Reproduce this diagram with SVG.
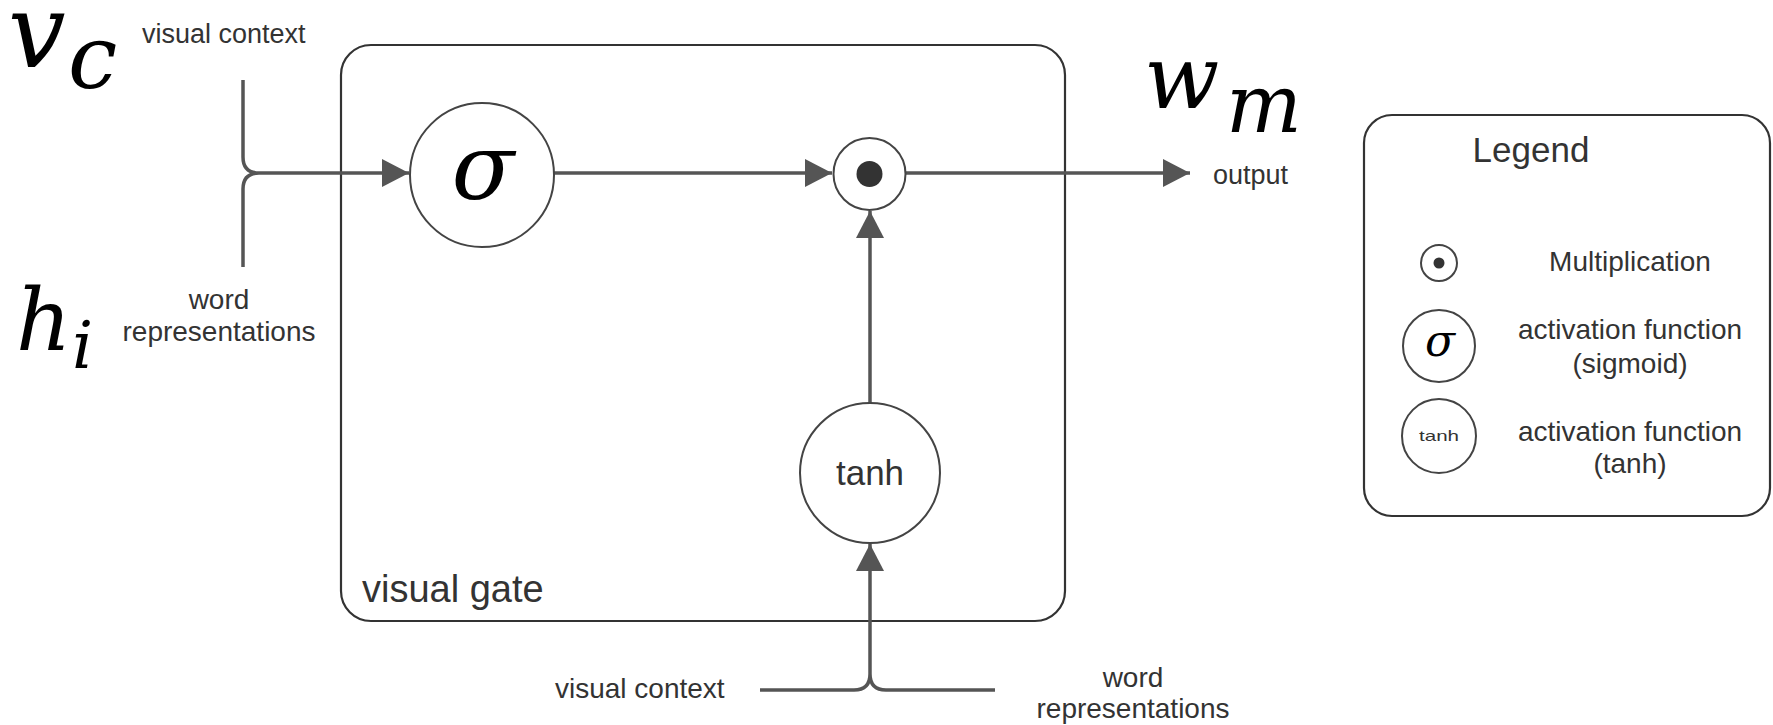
<svg xmlns="http://www.w3.org/2000/svg" width="1773" height="725" viewBox="0 0 1773 725">
<style>
.lbl{font-family:"Liberation Sans",Arial,sans-serif;fill:#333;}
.math{font-family:"DejaVu Serif",serif;font-style:italic;fill:#000;}
.node{fill:#fff;stroke:#444;stroke-width:2;}
.conn{fill:none;stroke:#555;stroke-width:3.5;}
.box{fill:none;stroke:#333;stroke-width:2.2;}
</style>
<defs>
<marker id="arr" markerUnits="userSpaceOnUse" markerWidth="30" markerHeight="30" refX="27" refY="14" orient="auto">
<path d="M0,0 L27,14 L0,28 z" fill="#555"/>
</marker>
</defs>
<rect width="1773" height="725" fill="#fff"/>

<g id="gate-box">
<rect class="box" x="341" y="45" width="724" height="576" rx="30" ry="30"/>
<text class="lbl" x="362" y="602" font-size="38">visual gate</text>
</g>

<g id="connectors">
<path class="conn" d="M243,80 V157 Q243,173 259,173 Q243,173 243,189 V267"/>
<path class="conn" d="M259,173 H409" marker-end="url(#arr)"/>
<path class="conn" d="M554,173 H832" marker-end="url(#arr)"/>
<path class="conn" d="M906,173 H1190" marker-end="url(#arr)"/>
<path class="conn" d="M870,404 V211" marker-end="url(#arr)"/>
<path class="conn" d="M760,690 H854 Q870,690 870,674 Q870,690 886,690 H995"/>
<path class="conn" d="M870,674 V544" marker-end="url(#arr)"/>
</g>

<g id="sigma-node">
<circle class="node" cx="482" cy="175" r="72"/>
<text class="math" x="483" y="199" font-size="92" text-anchor="middle">σ</text>
</g>

<g id="mult-node">
<circle class="node" cx="869.5" cy="174" r="36"/>
<circle cx="869.5" cy="174" r="13" fill="#333"/>
</g>

<g id="tanh-node">
<circle class="node" cx="870" cy="473" r="70"/>
<text class="lbl" x="870" y="485" font-size="35" text-anchor="middle">tanh</text>
</g>

<g id="input-top-left">
<text class="math" x="8" y="67" font-size="102">v</text>
<text class="math" x="68" y="88" font-size="88">c</text>
<text class="lbl" x="142" y="43" font-size="27">visual context</text>
</g>

<g id="input-bottom-left">
<text class="math" x="16" y="350" font-size="86">h</text>
<text class="math" x="72" y="368" font-size="66">i</text>
<text class="lbl" x="219" y="309" font-size="28" text-anchor="middle">word</text>
<text class="lbl" x="219" y="341" font-size="28" text-anchor="middle">representations</text>
</g>

<g id="output">
<text class="math" x="1144" y="108" font-size="88">w</text>
<text class="math" x="1226" y="132" font-size="80">m</text>
<text class="lbl" x="1213" y="184" font-size="27">output</text>
</g>

<g id="input-bottom">
<text class="lbl" x="555" y="698" font-size="28">visual context</text>
<text class="lbl" x="1133" y="687" font-size="28" text-anchor="middle">word</text>
<text class="lbl" x="1133" y="718" font-size="28" text-anchor="middle">representations</text>
</g>

<g id="legend">
<rect class="box" x="1364" y="115" width="406" height="401" rx="28" ry="28"/>
<text class="lbl" x="1531" y="162" font-size="35" text-anchor="middle">Legend</text>
<circle class="node" cx="1439" cy="263" r="18"/>
<circle cx="1439" cy="263" r="5.5" fill="#333"/>
<text class="lbl" x="1630" y="271" font-size="28" text-anchor="middle">Multiplication</text>
<circle class="node" cx="1439" cy="346" r="36"/>
<text class="math" x="1440" y="356" font-size="44" text-anchor="middle">σ</text>
<text class="lbl" x="1630" y="339" font-size="28" text-anchor="middle">activation function</text>
<text class="lbl" x="1630" y="373" font-size="28" text-anchor="middle">(sigmoid)</text>
<circle class="node" cx="1439" cy="436" r="37"/>
<text class="lbl" x="1439" y="441" font-size="15" text-anchor="middle" textLength="40" lengthAdjust="spacingAndGlyphs">tanh</text>
<text class="lbl" x="1630" y="441" font-size="28" text-anchor="middle">activation function</text>
<text class="lbl" x="1630" y="473" font-size="28" text-anchor="middle">(tanh)</text>
</g>
</svg>
